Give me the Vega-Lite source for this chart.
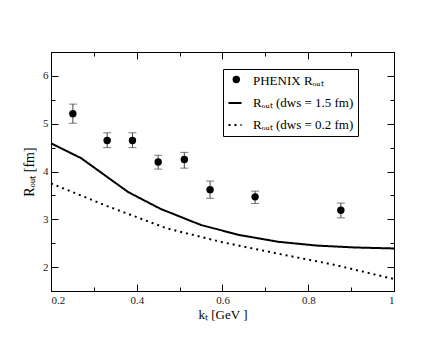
{
  "$schema": "https://vega.github.io/schema/vega-lite/v6.json",
  "width": 343,
  "height": 239,
  "autosize": "none",
  "padding": {"left": 51, "top": 52, "right": 50, "bottom": 52},
  "background": "white",
  "config": {
    "view": {"stroke": null},
    "font": "Liberation Serif",
    "axis": {
      "grid": false,
      "domainColor": "black",
      "domainWidth": 1,
      "tickColor": "black",
      "tickWidth": 1,
      "labelFont": "Liberation Serif",
      "labelFontSize": 11,
      "labelColor": "#222",
      "titleFont": "Liberation Serif",
      "titleFontWeight": "normal",
      "titleColor": "black"
    },
    "legend": {
      "labelFont": "Liberation Serif",
      "labelFontSize": 13,
      "labelColor": "black",
      "title": null
    }
  },
  "datasets": {
    "phenix": [
      {"kt": 0.251, "R": 5.21, "lo": 5.01, "hi": 5.41, "series": "PHENIX Rₒᵤₜ"},
      {"kt": 0.331, "R": 4.65, "lo": 4.50, "hi": 4.81, "series": "PHENIX Rₒᵤₜ"},
      {"kt": 0.390, "R": 4.65, "lo": 4.50, "hi": 4.81, "series": "PHENIX Rₒᵤₜ"},
      {"kt": 0.450, "R": 4.20, "lo": 4.05, "hi": 4.34, "series": "PHENIX Rₒᵤₜ"},
      {"kt": 0.511, "R": 4.25, "lo": 4.07, "hi": 4.40, "series": "PHENIX Rₒᵤₜ"},
      {"kt": 0.571, "R": 3.62, "lo": 3.44, "hi": 3.80, "series": "PHENIX Rₒᵤₜ"},
      {"kt": 0.676, "R": 3.47, "lo": 3.33, "hi": 3.59, "series": "PHENIX Rₒᵤₜ"},
      {"kt": 0.876, "R": 3.19, "lo": 3.03, "hi": 3.34, "series": "PHENIX Rₒᵤₜ"}
    ],
    "curves": [
      {"kt": 0.20, "R": 4.59, "series": "Rₒᵤₜ (dws = 1.5 fm)"},
      {"kt": 0.27, "R": 4.28, "series": "Rₒᵤₜ (dws = 1.5 fm)"},
      {"kt": 0.38, "R": 3.57, "series": "Rₒᵤₜ (dws = 1.5 fm)"},
      {"kt": 0.455, "R": 3.22, "series": "Rₒᵤₜ (dws = 1.5 fm)"},
      {"kt": 0.55, "R": 2.88, "series": "Rₒᵤₜ (dws = 1.5 fm)"},
      {"kt": 0.64, "R": 2.67, "series": "Rₒᵤₜ (dws = 1.5 fm)"},
      {"kt": 0.73, "R": 2.53, "series": "Rₒᵤₜ (dws = 1.5 fm)"},
      {"kt": 0.82, "R": 2.45, "series": "Rₒᵤₜ (dws = 1.5 fm)"},
      {"kt": 0.91, "R": 2.41, "series": "Rₒᵤₜ (dws = 1.5 fm)"},
      {"kt": 1.00, "R": 2.39, "series": "Rₒᵤₜ (dws = 1.5 fm)"},
      {"kt": 0.20, "R": 3.75, "series": "Rₒᵤₜ (dws = 0.2 fm)"},
      {"kt": 0.33, "R": 3.28, "series": "Rₒᵤₜ (dws = 0.2 fm)"},
      {"kt": 0.47, "R": 2.81, "series": "Rₒᵤₜ (dws = 0.2 fm)"},
      {"kt": 0.60, "R": 2.52, "series": "Rₒᵤₜ (dws = 0.2 fm)"},
      {"kt": 0.73, "R": 2.28, "series": "Rₒᵤₜ (dws = 0.2 fm)"},
      {"kt": 0.86, "R": 2.05, "series": "Rₒᵤₜ (dws = 0.2 fm)"},
      {"kt": 1.00, "R": 1.75, "series": "Rₒᵤₜ (dws = 0.2 fm)"}
    ]
  },
  "resolve": {"axis": {"x": "independent", "y": "independent"}},
  "layer": [
    {
      "data": {"name": "curves"},
      "mark": {"type": "line", "color": "black", "strokeWidth": 2},
      "encoding": {
        "x": {"field": "kt", "type": "quantitative", "scale": {"domain": [0.2, 1], "nice": false, "zero": false}, "axis": null},
        "y": {"field": "R", "type": "quantitative", "scale": {"domain": [1.5, 6.5], "nice": false, "zero": false}, "axis": null},
        "strokeDash": {
          "field": "series", "type": "nominal",
          "scale": {"domain": ["PHENIX Rₒᵤₜ", "Rₒᵤₜ (dws = 1.5 fm)", "Rₒᵤₜ (dws = 0.2 fm)"], "range": [[0, 100], [1, 0], [2, 4]]},
          "legend": {
            "orient": "none",
            "legendX": 172,
            "legendY": 17,
            "padding": 4,
            "strokeColor": "black",
            "fillColor": "white",
            "rowPadding": 7,
            "labelOffset": 10,
            "symbolType": "stroke",
            "symbolSize": 170,
            "symbolStrokeWidth": 2,
            "symbolStrokeColor": "black",
            "zindex": 1
          }
        }
      }
    },
    {
      "data": {"name": "phenix"},
      "mark": {"type": "rule", "color": "#444", "strokeWidth": 1},
      "encoding": {
        "x": {"field": "kt", "type": "quantitative", "axis": {"orient": "bottom", "values": [0.3, 0.5, 0.7, 0.9], "labels": false, "tickSize": -4, "title": null}},
        "y": {"field": "lo", "type": "quantitative", "axis": {"orient": "left", "values": [2.5, 3.5, 4.5, 5.5], "labels": false, "tickSize": -4, "title": null}},
        "y2": {"field": "hi"}
      }
    },
    {
      "data": {"name": "phenix"},
      "mark": {"type": "tick", "orient": "horizontal", "color": "#444", "size": 8, "thickness": 1},
      "encoding": {
        "x": {"field": "kt", "type": "quantitative", "axis": {"orient": "top", "values": [0.2, 0.4, 0.6, 0.8, 1], "labels": false, "tickSize": -7, "title": null}},
        "y": {"field": "lo", "type": "quantitative", "axis": {"orient": "right", "values": [2, 3, 4, 5, 6], "labels": false, "tickSize": -7, "title": null}}
      }
    },
    {
      "data": {"name": "phenix"},
      "mark": {"type": "tick", "orient": "horizontal", "color": "#444", "size": 8, "thickness": 1},
      "encoding": {
        "x": {"field": "kt", "type": "quantitative", "axis": {"orient": "top", "values": [0.3, 0.5, 0.7, 0.9], "labels": false, "tickSize": -4, "title": null}},
        "y": {"field": "hi", "type": "quantitative", "axis": {"orient": "right", "values": [2.5, 3.5, 4.5, 5.5], "labels": false, "tickSize": -4, "title": null}}
      }
    },
    {
      "data": {"name": "phenix"},
      "mark": {"type": "point", "filled": true, "color": "black", "opacity": 1, "size": 55},
      "encoding": {
        "x": {"field": "kt", "type": "quantitative", "axis": {"orient": "bottom", "values": [0.2, 0.4, 0.6, 0.8, 1], "format": "~g", "tickSize": -7, "labelPadding": 10, "title": "kₜ [GeV ]", "titleFontSize": 13, "titlePadding": 3}},
        "y": {"field": "R", "type": "quantitative", "axis": {"orient": "left", "values": [2, 3, 4, 5, 6], "tickSize": -7, "labelPadding": 10, "title": "Rₒᵤₜ [fm]", "titleFontSize": 14, "titlePadding": 6}},
        "shape": {
          "field": "series", "type": "nominal",
          "scale": {"domain": ["PHENIX Rₒᵤₜ"], "range": ["circle"]},
          "legend": {
            "orient": "none",
            "legendX": 174.8,
            "legendY": 17,
            "padding": 4,
            "strokeColor": null,
            "fillColor": null,
            "labelOffset": 10,
            "labelOpacity": 0,
            "symbolSize": 55,
            "symbolFillColor": "black",
            "symbolOpacity": 1,
            "zindex": 2
          }
        }
      }
    }
  ]
}
